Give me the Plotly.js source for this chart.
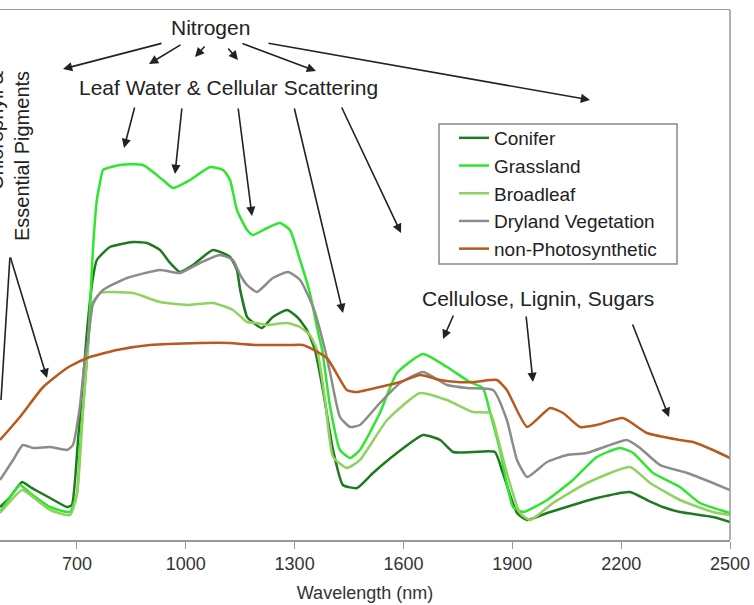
<!DOCTYPE html>
<html>
<head>
<meta charset="utf-8">
<script src="https://cdn.plot.ly/plotly-3.0.1.min.js"></script>
<style>html,body{margin:0;padding:0;background:#fff;}#chart{width:754px;height:605px;}</style>
</head>
<body>
<div id="chart"></div>
<script>
// Wavelength (nm) and reflectance per vegetation type
const coniferNm = [488,516,549,571,626,673,686,703,717,728,744,755,791,855,893,929,957,984,1020,1075,1122,1141,1150,1169,1177,1210,1240,1279,1307,1334,1356,1378,1406,1433,1472,1516,1582,1654,1701,1737,1792,1852,1874,1913,1941,1996,2067,2133,2224,2271,2315,2362,2453,2500];
const coniferR = [.033,.043,.058,.053,.042,.033,.035,.10,.16,.21,.262,.28,.293,.298,.297,.29,.277,.268,.275,.29,.283,.27,.25,.223,.22,.212,.223,.23,.223,.21,.19,.15,.09,.055,.052,.067,.087,.105,.10,.088,.088,.088,.067,.027,.02,.027,.035,.042,.048,.04,.033,.028,.023,.018];

const grassNm = [488,524,543,571,626,681,700,708,717,731,744,755,764,772,819,882,937,965,1012,1067,1103,1122,1141,1169,1185,1224,1260,1287,1315,1342,1365,1376,1398,1425,1453,1480,1535,1582,1654,1720,1783,1819,1839,1866,1902,1930,1996,2067,2133,2197,2233,2288,2362,2417,2500];
const grassR = [.028,.047,.055,.047,.033,.028,.047,.09,.133,.195,.29,.34,.358,.37,.375,.375,.36,.352,.36,.373,.37,.36,.33,.31,.305,.312,.317,.31,.28,.247,.207,.19,.133,.09,.082,.09,.127,.167,.186,.173,.158,.152,.127,.09,.033,.028,.04,.06,.083,.092,.087,.067,.053,.037,.027];

const broadNm = [488,549,571,626,681,700,717,731,744,764,791,855,929,1003,1075,1130,1169,1196,1224,1279,1315,1342,1362,1384,1406,1444,1480,1555,1646,1720,1792,1839,1847,1885,1921,1949,2012,2106,2224,2280,2362,2453,2500];
const broadR = [.027,.05,.045,.03,.025,.045,.13,.2,.235,.247,.248,.247,.238,.235,.237,.23,.218,.217,.215,.217,.213,.205,.19,.14,.083,.072,.08,.12,.147,.14,.128,.127,.12,.067,.027,.02,.037,.057,.073,.057,.04,.028,.025];

const dryNm = [488,524,551,579,626,673,689,708,722,731,744,772,838,929,984,1039,1094,1130,1150,1169,1196,1240,1282,1315,1351,1384,1398,1425,1453,1480,1535,1591,1654,1720,1775,1847,1885,1913,1941,1996,2051,2106,2161,2216,2252,2307,2382,2453,2500];
const dryR = [.06,.08,.095,.092,.093,.09,.095,.133,.18,.2,.237,.25,.262,.27,.267,.277,.285,.28,.265,.255,.248,.262,.268,.26,.233,.19,.167,.123,.113,.115,.137,.157,.168,.155,.152,.15,.12,.08,.063,.078,.085,.087,.094,.10,.092,.075,.067,.057,.05];

const npvNm = [488,543,607,673,728,810,901,1039,1122,1150,1196,1240,1287,1323,1389,1444,1472,1535,1591,1646,1701,1748,1792,1839,1858,1885,1941,2004,2040,2087,2133,2205,2271,2362,2398,2453,2500];
const npvR = [.10,.123,.153,.172,.182,.19,.195,.197,.197,.196,.195,.195,.195,.195,.182,.15,.148,.153,.158,.165,.16,.158,.158,.16,.16,.15,.113,.132,.127,.113,.115,.122,.107,.10,.098,.09,.082];

const seriesNames = ["Conifer","Grassland","Broadleaf","Dryland Vegetation","non-Photosynthetic"];
const tickVals = [700,1000,1300,1600,1900,2200,2500];
const tickText = ["700","1000","1300","1600","1900","2200","2500"];

const colors = ["#1f7a1f","#2ee62e","#8fd260","#8c8c8c","#b8591f"];
const xs = [coniferNm, grassNm, broadNm, dryNm, npvNm];
const ys = [coniferR, grassR, broadR, dryR, npvR];

const traces = seriesNames.map((n,i)=>({
  x: xs[i], y: ys[i], name: n, type: 'scatter', mode: 'lines',
  line: {color: colors[i], width: 2.5, shape: 'spline', smoothing: 0.5},
  legendgroup: 'g'+i
}));

// pixel -> paper helpers (plot area: x 0..730, y 10..540)
const PW = 730, PH = 530, PB = 540;
const px = x => x/PW;
const py = y => (PB - y)/PH;

function arrow(tx,ty,tipx,tipy,head){
  return {x: px(tipx), y: py(tipy), xref:'paper', yref:'paper', text:'',
    showarrow:true, ax: tx-tipx, ay: ty-tipy, arrowhead: head===undefined?2:head, arrowsize:1.15,
    arrowwidth:1.6, arrowcolor:'#222'};
}
function label(text,x,y,size){
  return {x: px(x), y: py(y), xref:'paper', yref:'paper', text:text, showarrow:false,
    xanchor:'center', yanchor:'middle', font:{family:'Liberation Sans, Arial, sans-serif', size:size, color:'#222'}};
}

const annotations = [
  label('Nitrogen',210,28,21),
  label('Leaf Water &amp; Cellular Scattering',228,88,21),
  label('Cellulose, Lignin, Sugars',538,298,21),
  {x: px(9), y: py(156), xref:'paper', yref:'paper', text:'Chlorophyll &amp;<br>Essential Pigments',
   showarrow:false, textangle:-90, align:'right', xanchor:'center', yanchor:'middle',
   font:{family:'Liberation Sans, Arial, sans-serif', size:20, color:'#222'}},
  arrow(163,43,63,69), arrow(182,44,149,64), arrow(206,45,195,57),
  arrow(227,47,238,60), arrow(241,43,316,71), arrow(267,43,590,100),
  arrow(135,106,124,148), arrow(182,107,175,174), arrow(238,107,252,216),
  arrow(294,107,343,313), arrow(341,106,401,233),
  arrow(454,314,443,339), arrow(526,315,533,382), arrow(632,323,669,417),
  arrow(10,256,47,378), arrow(10,256,-3,400,0)
];

const layout = {
  width: 754, height: 605,
  margin: {l:0, r:24, t:10, b:65},
  paper_bgcolor:'#fff', plot_bgcolor:'#fff',
  font: {family:'Liberation Sans, Arial, sans-serif', color:'#333'},
  showlegend: true,
  legend: {x: px(454), y: py(119), xanchor:'left', yanchor:'top', xref:'paper', yref:'paper',
    bgcolor:'rgba(255,255,255,0)', borderwidth:0, font:{size:19, color:'#222'},
    tracegroupgap: 0, itemwidth: 30},
  xaxis: {range:[488,2500], tickvals: tickVals, ticktext: tickText, showgrid:false, zeroline:false,
    showline:true, linecolor:'#999', linewidth:1.5, mirror:true, ticks:'outside', ticklen:7, tickcolor:'#999',
    tickfont:{size:18, color:'#333'},
    title:{text:'Wavelength (nm)', font:{size:18, color:'#333'}, standoff: 13}},
  yaxis: {range:[0,0.53], showgrid:false, zeroline:false, showline:false, showticklabels:false, ticks:''},
  shapes: [
    {type:'line', xref:'paper', yref:'paper', x0:1, x1:1, y0:0, y1:1, line:{color:'#999', width:1.5}},
    {type:'rect', xref:'paper', yref:'paper', x0:px(439), x1:px(677), y0:py(124), y1:py(264), line:{color:'#888', width:1.5}}
  ],
  annotations: annotations
};

Plotly.newPlot('chart', traces, layout, {displayModeBar:false, staticPlot:true});
</script>
</body>
</html>
